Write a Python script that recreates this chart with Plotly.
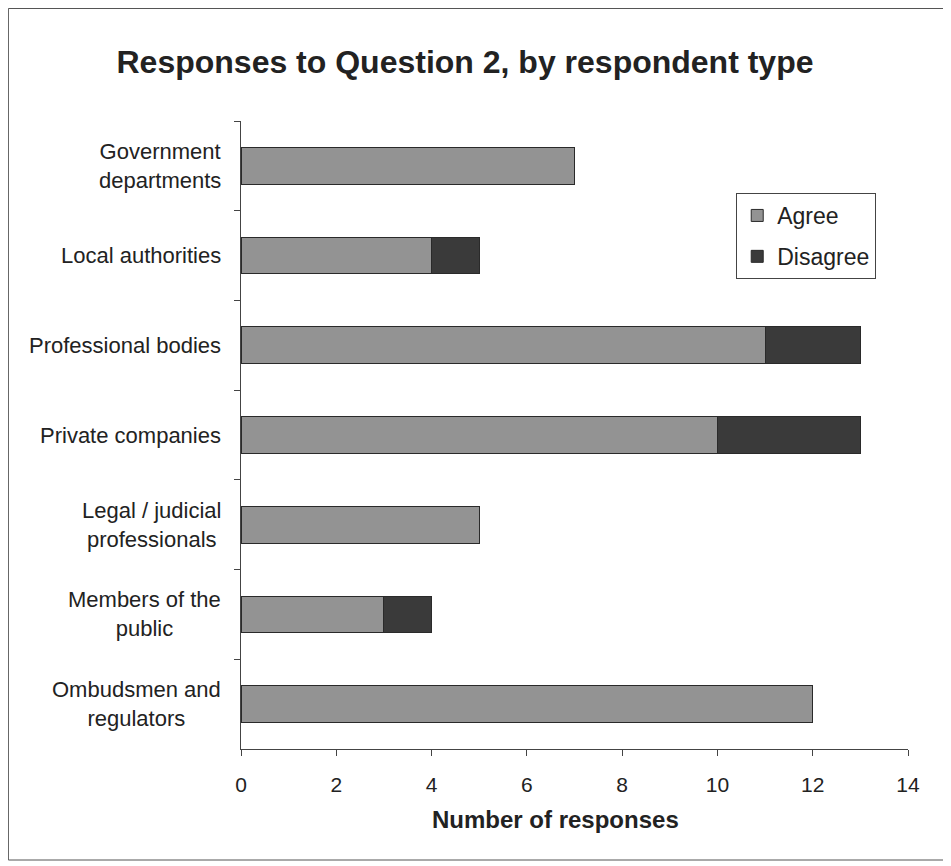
import plotly.graph_objects as go

categories = ["Government<br>departments", "Local authorities", "Professional bodies",
              "Private companies", "Legal / judicial<br>professionals",
              "Members of the<br>public", "Ombudsmen and<br>regulators"]
agree = [7, 4, 11, 10, 5, 3, 12]
disagree = [0, 1, 2, 3, 0, 1, 0]

OFF = 8                      # page offset of the figure in the screenshot
W, H = 951 - OFF, 866 - OFF
# plot area in screen coordinates
SL, SR, ST, SB = 241, 907.7, 121, 749

def px(x): return (x - SL) / (SR - SL)
def py(y): return (SB - y) / (SB - ST)

fig = go.Figure()
fig.add_trace(go.Bar(y=categories, x=agree, name="Agree", orientation="h",
                     legendgroup="a",
                     marker=dict(color="#939393", line=dict(color="#2a2a2a", width=1))))
fig.add_trace(go.Bar(y=categories, x=disagree, name="Disagree", orientation="h",
                     legendgroup="d",
                     marker=dict(color="#3a3a3a", line=dict(color="#2a2a2a", width=1))))

fig.update_layout(
    width=W, height=H, barmode="stack", bargap=0.59,
    paper_bgcolor="white", plot_bgcolor="white",
    margin=dict(l=SL - OFF, r=W - (SR - OFF), t=ST - OFF, b=H - (SB - OFF)),
    font=dict(family="Liberation Sans, Arial", size=21, color="#222"),
    title=dict(text="<b>Responses to Question 2, by respondent type</b>",
               x=(465 - OFF) / W, xanchor="center", y=1 - (62 - OFF) / H, yanchor="middle",
               font=dict(size=32, color="#222")),
    xaxis=dict(range=[0, 14], dtick=2, showline=True, linecolor="#444", linewidth=1,
               ticks="outside", ticklen=6, tickcolor="#444", showgrid=False,
               zeroline=False, tickfont=dict(size=21), ticklabelstandoff=11),
    yaxis=dict(autorange="reversed", showline=True, linecolor="#444", linewidth=1,
               ticks="outside", ticklen=6, tickcolor="#444", tickson="boundaries",
               showgrid=False, showticklabels=False),
    legend=dict(x=px(736), y=py(193), xanchor="left", yanchor="top",
                bordercolor="#444", borderwidth=1, bgcolor="white",
                font=dict(size=23), traceorder="grouped", tracegroupgap=8,
                itemwidth=30),
    showlegend=True,
)
# category labels: right edge near the axis, lines centred on each other
for c in categories:
    fig.add_annotation(text=c, xref="paper", yref="y", x=px(223), y=c,
                       xanchor="right", yanchor="middle", align="center",
                       showarrow=False, font=dict(size=22, color="#222"))
fig.add_annotation(text="<b>Number of responses</b>", xref="paper", yref="paper",
                   x=px(555), y=py(819), xanchor="center", yanchor="middle",
                   showarrow=False, font=dict(size=24, color="#222"))
fig.add_shape(type="rect", xref="paper", yref="paper",
              x0=px(OFF + 0.5), x1=px(948), y0=py(860), y1=py(OFF + 0.5),
              line=dict(color="#555", width=1))
fig.write_html("out.html")
